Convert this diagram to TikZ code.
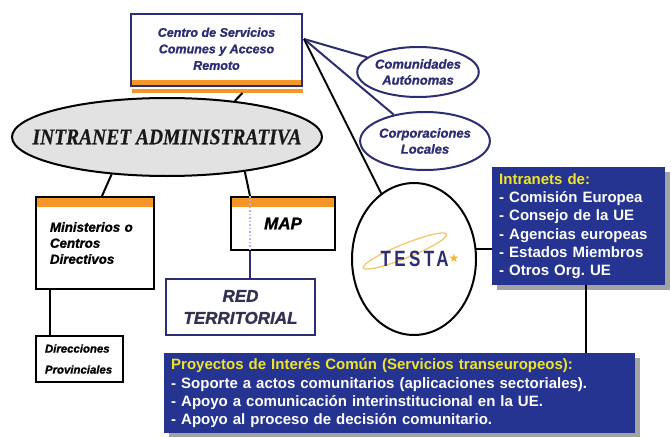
\documentclass[tikz,border=0pt]{standalone}
\usepackage{fontspec}
\setmainfont{Liberation Serif}[BoldItalicFeatures={FakeBold=0.6}]
\setsansfont{Liberation Sans}[BoldItalicFeatures={FakeBold=1.2}]
\newfontfamily\symfont{DejaVu Sans}
\usetikzlibrary{shapes.geometric,shadows,calc}
\definecolor{navy}{RGB}{45,45,115}
\definecolor{boxblue}{RGB}{38,52,145}
\definecolor{yel}{RGB}{240,228,40}
\definecolor{orng}{RGB}{245,150,40}
\definecolor{ellgray}{RGB}{226,226,226}
\definecolor{redtxt}{RGB}{50,50,80}
\definecolor{dotblue}{RGB}{170,180,230}
\definecolor{swoosh}{RGB}{245,200,110}
\frenchspacing
\begin{document}
\begin{tikzpicture}[x=1pt,y=-1pt,
  bk/.style={draw=black,line width=2pt},
  nv/.style={draw=navy,line width=2pt},
  topbar/.style={draw=black,line width=2pt,fill=white,
    path picture={\fill[orng] (path picture bounding box.north west) rectangle ([yshift=-10pt]path picture bounding box.north east);}},
  bluebox/.style={fill=boxblue,draw=none,text=white,align=left,
    font=\sffamily\bfseries\fontsize{15}{18.3}\selectfont,
    drop shadow={shadow xshift=5pt,shadow yshift=-5pt,fill=black!45,opacity=0.8},
    inner xsep=7pt,anchor=north west},
  smallell/.style={ellipse,draw=navy,line width=2pt,inner sep=0pt,text=navy,align=center,
    font=\sffamily\bfseries\itshape\fontsize{13}{16}\selectfont}
]
\useasboundingbox (0,0) rectangle (671,436);

% Centro de Servicios
\node[draw=navy,line width=2pt,fill=white,minimum width=171pt,minimum height=72pt,inner sep=0pt,
  text=navy,font=\sffamily\bfseries\itshape\fontsize{12.5}{16.5}\selectfont,
  path picture={\fill[orng] ([yshift=1pt]path picture bounding box.south west) rectangle ([yshift=6pt]path picture bounding box.south east);}]
  (centro) at (216.5,50) {\raisebox{6pt}{\begin{tabular}{@{}c@{}}Centro de Servicios\\Comunes y Acceso\\Remoto\end{tabular}}};
\fill[orng] ($(centro.south west)+(2,1.5)$) rectangle ($(centro.south east)+(0,5.5)$);

% Intranet administrativa
\node[ellipse,draw=black,line width=2pt,fill=ellgray,minimum width=310pt,minimum height=78pt,inner sep=0pt,
  font=\rmfamily\bfseries\itshape\fontsize{19.5}{22}\selectfont,text=black!90]
  (intranet) at (167,137) {\makebox[0pt]{\scalebox{1}[1.15]{INTRANET ADMINISTRATIVA}}};

% Ministerios
\node[topbar,minimum width=118pt,minimum height=92pt,text width=90pt,inner xsep=14pt,align=left,
  font=\sffamily\bfseries\itshape\fontsize{13.3}{16}\selectfont]
  (minist) at (95,243) {Ministerios o\\Centros\\Directivos};

% MAP
\node[topbar,minimum width=104pt,minimum height=53pt,inner sep=0pt,
  font=\sffamily\bfseries\itshape\fontsize{17}{20}\selectfont]
  (map) at (283,223.5) {\raisebox{-5pt}{MAP}};

% RED TERRITORIAL
\node[draw=navy,line width=2pt,fill=white,minimum width=149pt,minimum height=56pt,inner sep=0pt,align=center,
  text=redtxt,font=\sffamily\bfseries\itshape\fontsize{17}{22}\selectfont]
  (red) at (240.5,307) {RED\\TERRITORIAL};

% Direcciones provinciales
\node[draw=black,line width=2.2pt,fill=white,minimum width=87pt,minimum height=46pt,text width=69pt,inner xsep=9pt,align=left,
  font=\sffamily\bfseries\itshape\fontsize{11.4}{21}\selectfont]
  (direc) at (79.5,359) {Direcciones\\Provinciales};

% Small ellipses
\node[smallell,minimum width=116pt,minimum height=50pt] (comun) at (418,72) {Comunidades\\Autónomas};
\node[smallell,minimum width=120pt,minimum height=58pt] (corp) at (425,141) {Corporaciones\\Locales};

% TESTA
\node[ellipse,draw=black,line width=2pt,fill=white,minimum width=124pt,minimum height=152pt,inner sep=0pt] (testa) at (414,259) {};
\draw[swoosh,line width=1.3pt] (405,251) ellipse [x radius=45pt,y radius=7pt,rotate=22];
\node[text=navy,font=\sffamily\bfseries\fontsize{17}{20}\selectfont,inner sep=0pt] (testalogo) at (420,259)
  {\scalebox{1}[1.3]{\addfontfeatures{LetterSpace=20}TESTA}\raisebox{4pt}{\color{orng!70!yellow}\symfont\fontsize{12}{12}\selectfont ★}};

% Blue boxes
\node[bluebox,minimum width=173pt,minimum height=118pt,text width=159pt] (intr) at (492,167)
  {{\color{yel}Intranets de:}\\- Comisión Europea\\- Consejo de la UE\\- Agencias europeas\\- Estados Miembros\\- Otros Org. UE};
\node[bluebox,minimum width=471pt,minimum height=80pt,text width=457pt] (proy) at (164,353)
  {{\color{yel}Proyectos de Interés Común (Servicios transeuropeos):}\\- Soporte a actos comunitarios (aplicaciones sectoriales).\\- Apoyo a comunicación interinstitucional en la UE.\\- Apoyo al proceso de decisión comunitario.};

% Connectors
\coordinate (hub) at ($(centro.north east)+(1,26)$);
\draw[bk] ($(centro.south)+(26,6)$) -- (intranet.28);
\draw[bk] (intranet.214) -- ([xshift=7pt]minist.north);
\draw[bk] (intranet.-24) -- ([xshift=-33pt]map.north);
\draw[dotblue,line width=1.5pt,dotted] ([xshift=-33pt]map.north) -- ([xshift=-33pt]map.south);
\draw[nv] ([xshift=-33pt]map.south) -- ([xshift=-33pt]map.south |- red.north);
\draw[bk] ([xshift=-45pt]minist.south) -- ([xshift=-45pt]minist.south |- direc.north);
\draw[nv] (hub) -- (comun);
\draw[nv] (hub) -- (corp);
\draw[bk] (hub) -- (testa);
\draw[bk] (testa.9) -- (testa.9 -| intr.west);
\draw[bk] ([xshift=7.5pt]intr.south) -- ([xshift=7.5pt]intr.south |- proy.north);
\end{tikzpicture}
\end{document}
